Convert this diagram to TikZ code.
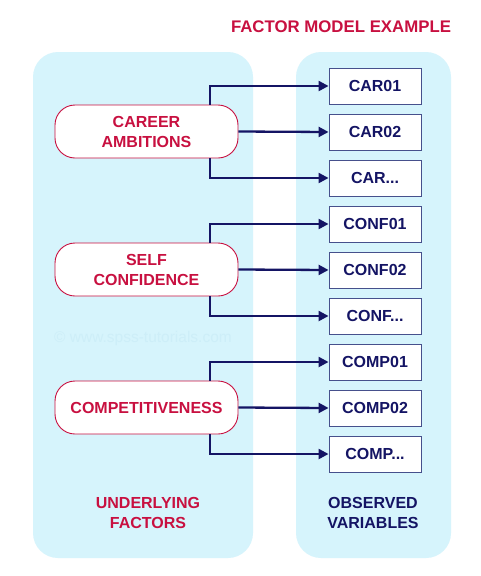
\documentclass[tikz,border=0pt]{standalone}
\usepackage{fontspec}
\setmainfont{Liberation Sans}
\usetikzlibrary{arrows.meta}
\definecolor{crim}{RGB}{200,16,64}
\definecolor{navy}{RGB}{20,20,100}
\definecolor{panel}{RGB}{214,244,252}
\definecolor{boxline}{RGB}{70,80,140}
\definecolor{wm}{RGB}{205,238,248}
\tikzset{
  panelbox/.style={fill=panel, draw=none, rounded corners=25pt},
  factorbox/.style={draw=crim, line width=0.9pt, fill=white, rounded corners=20pt,
    minimum width=183pt, minimum height=53pt, align=center, text=crim,
    font=\fontsize{16}{20}\selectfont\bfseries, inner sep=0pt},
  varbox/.style={draw=boxline, line width=0.9pt, fill=white,
    minimum width=92pt, minimum height=36pt, text=navy,
    font=\fontsize{16}{18}\selectfont\bfseries, inner sep=0pt},
  link/.style={draw=navy, line width=2.3pt, -{Triangle[length=10pt,width=10pt]}},
  lbl/.style={align=center, font=\fontsize{16}{20}\selectfont\bfseries}
}
\begin{document}
\begin{tikzpicture}[x=1pt,y=-1pt]
\useasboundingbox (0,0) rectangle (480,576);
\fill[white] (0,0) rectangle (480,576);
\node[text=crim, font=\fontsize{16.8}{20}\selectfont\bfseries] (title) at (341,27) {FACTOR MODEL EXAMPLE};
\path[panelbox] (33,52) rectangle (253,558);
\path[panelbox] (296,52) rectangle (451,558);
\node[text=wm, font=\fontsize{15.5}{18}\selectfont] (wmark) at (143,338) {© www.spss-tutorials.com};

\node[factorbox] (f1) at (146.5,131.5) {CAREER\\AMBITIONS};
\node[factorbox] (f2) at (146.5,269.5) {SELF\\CONFIDENCE};
\node[factorbox] (f3) at (146.5,407.5) {COMPETITIVENESS};

\node[varbox] (v1) at (375,86) {CAR01};
\node[varbox] (v2) at (375,132) {CAR02};
\node[varbox] (v3) at (375,178) {CAR...};
\node[varbox] (v4) at (375,224) {CONF01};
\node[varbox] (v5) at (375,270) {CONF02};
\node[varbox] (v6) at (375,316) {CONF...};
\node[varbox] (v7) at (375,362) {COMP01};
\node[varbox] (v8) at (375,408) {COMP02};
\node[varbox] (v9) at (375,454) {COMP...};

\foreach \f/\a/\b/\c in {f1/v1/v2/v3, f2/v4/v5/v6, f3/v7/v8/v9}{
  \draw[link] ([xshift=63.5pt]\f.north) |- (\a.west);
  \draw[link] (\f.east) -- (\b.west);
  \draw[link] ([xshift=63.5pt]\f.south) |- (\c.west);
}

\node[lbl, text=crim] (lf) at (148,513) {UNDERLYING\\FACTORS};
\node[lbl, text=navy] (lv) at (373,513) {OBSERVED\\VARIABLES};
\end{tikzpicture}
\end{document}
